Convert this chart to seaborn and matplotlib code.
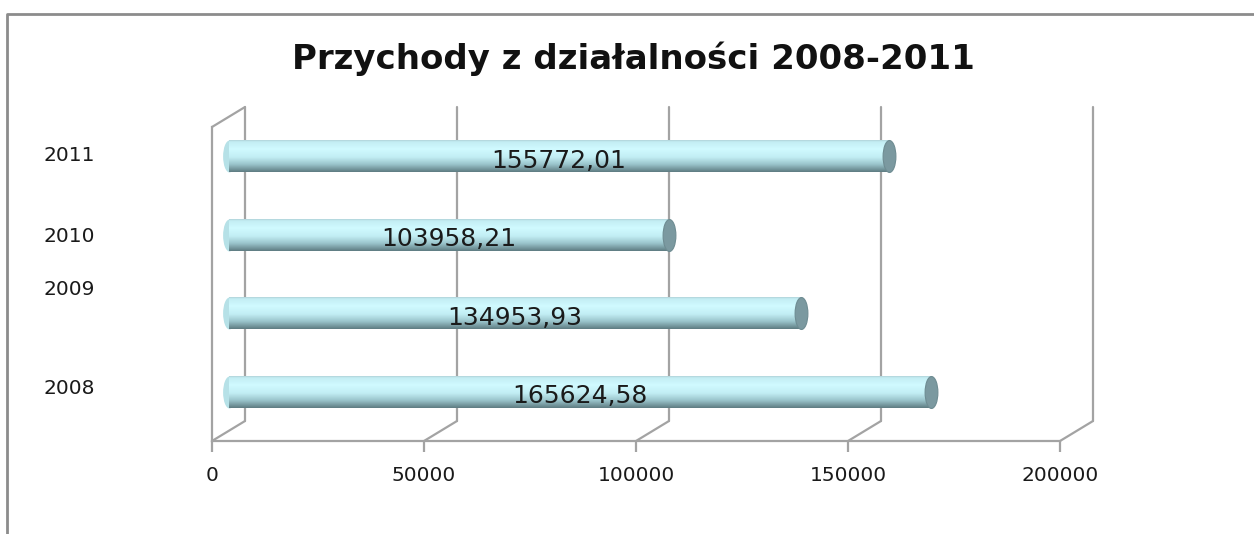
import numpy as np
import pandas as pd
import matplotlib
matplotlib.use('Agg')
import matplotlib.pyplot as plt
import matplotlib.transforms as mtransforms
from matplotlib.patches import ConnectionPatch
from matplotlib.path import Path
from matplotlib.lines import Line2D
from matplotlib.colors import LinearSegmentedColormap
import seaborn as sns

# data
years = ['2011', '2010', '2009', '2008']
revenue = [155772.01, 103958.21, 134953.93, 165624.58]
value_labels = ['155772,01', '103958,21', '134953,93', '165624,58']
xticks = [0, 50000, 100000, 150000, 200000]
xtick_labels = ['0', '50000', '100000', '150000', '200000']
title = 'Przychody z działalności 2008-2011'

sns.set_theme(style='white')
plt.rcParams['font.family'] = ['DejaVu Sans']

grey = '#a3a3a3'

fig = plt.figure(figsize=(12.54, 5.34), dpi=100)
ax = fig.add_axes([212 / 1254, 93 / 534, 848 / 1254, 314 / 534])

df = pd.DataFrame({'year': years, 'value': revenue})
sns.barplot(data=df, x='value', y='year', order=years, orient='h',
            width=0.41, color='#bfe9ef', linewidth=0, ax=ax, zorder=3)
bars = list(ax.patches)
ax.set_xlim(0, 200000)
ax.set_ylim(3.5, -0.5)

# fake 3d: back wall and middle depth (for the cylinders)
back = mtransforms.ScaledTranslation(0.33, 0.20, fig.dpi_scale_trans)
mid = mtransforms.ScaledTranslation(0.165, 0.10, fig.dpi_scale_trans)
front_x = ax.get_xaxis_transform()
back_x = front_x + back

for t in xticks:
    ax.plot([t, t], [0, 1], color=grey, lw=1.6, transform=back_x, zorder=1,
            clip_on=False)
    ax.add_artist(ConnectionPatch((t, 0), (t, 0), coordsA=front_x, coordsB=back_x,
                                  color=grey, lw=1.6, zorder=1))
ax.add_artist(ConnectionPatch((0, 1), (0, 1), coordsA=front_x, coordsB=back_x,
                              color=grey, lw=1.6, zorder=1))

# cylinder shading
cmap = LinearSegmentedColormap.from_list('cyl', [
    (0.0, '#a8c8ce'), (0.08, '#c4eef4'), (0.3, '#d0faff'),
    (0.55, '#c2eef4'), (0.78, '#98c2c9'), (1.0, '#5f7d83')])
grad = np.linspace(0, 1, 64).reshape(-1, 1)
pos = np.arange(len(years))

ellipse = Path.unit_circle().transformed(mtransforms.Affine2D().scale(0.4, 1.0))
ax.plot(np.zeros(len(years)), pos, ls='none', marker=ellipse, ms=23,
        mfc='#b6e1e7', mec='none', transform=ax.transData + mid, zorder=3)

for p in bars:
    p.set_transform(ax.transData + mid)
    x0, y0, w, h = p.get_x(), p.get_y(), p.get_width(), p.get_height()
    im = ax.imshow(grad, cmap=cmap, aspect='auto', origin='upper',
                   extent=(x0, x0 + w, y0 + h, y0),
                   transform=ax.transData + mid, zorder=4)
    im.set_clip_path(p)

ax.set_aspect('auto')
ax.set_xlim(0, 200000)
ax.set_ylim(3.5, -0.5)

ax.plot(revenue, pos, ls='none', marker=ellipse, ms=23,
        mfc='#7b99a0', mec='#6e8c92', mew=0.8,
        transform=ax.transData + mid, zorder=5)

for i, (v, lab) in enumerate(zip(revenue, value_labels)):
    ax.text(v / 2, i + 0.06, lab, ha='center', va='center', fontsize=18,
            color='#1a1a1a', transform=ax.transData + mid, zorder=6)

# axes styling
for s in ['top', 'right']:
    ax.spines[s].set_visible(False)
for s in ['left', 'bottom']:
    ax.spines[s].set_color(grey)
    ax.spines[s].set_linewidth(1.6)
    ax.spines[s].set_zorder(1)

ax.set_xticks(xticks)
ax.set_xticklabels(xtick_labels)
ax.tick_params(axis='x', bottom=True, length=8, width=1.6, color=grey,
               direction='out', pad=10, labelsize=14.5, labelcolor='#1a1a1a')
ax.tick_params(axis='y', left=False, length=0, pad=84, labelsize=14.5,
               labelcolor='#1a1a1a')
ax.set_xlabel('')
ax.set_ylabel('')

# year labels sit slightly off the bars in the original
nudges = {'2011': 0.13, '2010': 0.10, '2009': 0.36, '2008': 0.15}
for lab in ax.get_yticklabels():
    dy = nudges.get(lab.get_text(), 0.1)
    lab.set_transform(lab.get_transform() +
                      mtransforms.ScaledTranslation(0, dy, fig.dpi_scale_trans))

fig.text(0.5055, 1 - 59 / 534, title, ha='center', va='center',
         fontsize=24.5, fontweight='bold', color='#111111')

# chart border (cut by the image edge)
fig.add_artist(Line2D([7 / 1254, 7 / 1254, 1], [0, 1 - 14 / 534, 1 - 14 / 534],
                      transform=fig.transFigure, color='#8c8c8c', lw=2))

fig.savefig('out.png', dpi=100)
